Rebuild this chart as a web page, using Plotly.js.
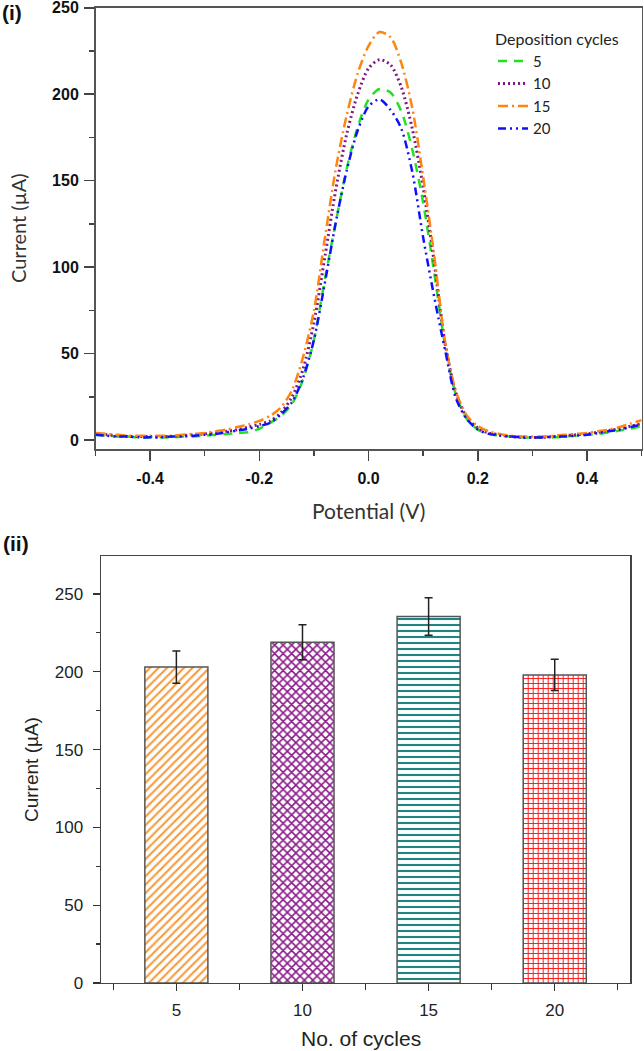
<!DOCTYPE html>
<html>
<head>
<meta charset="utf-8">
<script src="https://cdn.plot.ly/plotly-3.0.1.min.js"></script>
<style>html,body{margin:0;padding:0;background:#fff;}#chart{width:644px;height:1051px;}</style>
</head>
<body>
<div id="chart"></div>
<script>
// ---------- Panel (i): DPV curves ----------
const potential = [-0.50,-0.48,-0.46,-0.44,-0.42,-0.40,-0.38,-0.36,-0.34,-0.32,-0.30,-0.28,-0.26,-0.24,-0.22,-0.20,-0.18,-0.16,-0.14,-0.12,-0.10,-0.08,-0.06,-0.04,-0.02,0.00,0.02,0.04,0.06,0.08,0.10,0.12,0.14,0.16,0.18,0.20,0.22,0.24,0.26,0.28,0.30,0.32,0.34,0.36,0.38,0.40,0.42,0.44,0.46,0.48,0.50];
const current5  = [3,2.5,2,2,1.5,1.5,1.5,1.5,2,2,2.5,3,3.5,4,4.5,6.5,10,14,21,35,58,93,126,157,181,197,203,201,190,168,137,97,55,26,12,6,3.5,2.5,2,1.5,1.5,1.5,1.5,2,2.5,3,3.5,4.5,5.5,6.5,8];
const current10 = [3.5,3,2.5,2,2,2,2,2,2.5,3,3.5,4,5,6,7.5,9,11,16,25,41,68,106,145,177,200,215,220,217,204,180,146,103,56,27,13,7,4,3,2,1.5,1.5,1.5,2,2.5,3,3.5,4.5,5.5,6.5,8,9.5];
const current15 = [4,3.5,3,2.5,2.5,2.5,2.5,2.5,3,3.5,4,5,6,7.5,9,11,14,19,29,48,75,117,157,188,212,228,236,233,218,192,152,107,57,28,14,8,5,3.5,2.5,2,2,2,2.5,3,3.5,4,5,6,7.5,9.5,11.5];
const current20 = [3,2.5,2,2,1.5,1.5,1.5,2,2,2.5,3,3.5,4.5,5.5,6.5,8,10,15,22,36,58,91,126,156,179,193,197,191,180,155,117,83,52,24,12,6,3.5,2.5,2,1.5,1.5,1.5,2,2,2.5,3,4,5,6,7.5,9];
const seriesNames = ['5','10','15','20'];
const potentialTicks = [-0.4,-0.2,0,0.2,0.4];
const potentialTickLabels = ['-0.4','-0.2','0.0','0.2','0.4'];
const currentTicksTop = [0,50,100,150,200,250];

// ---------- Panel (ii): bar chart ----------
const cycles = [5,10,15,20];
const cycleLabels = ['5','10','15','20'];
const peakCurrent = [203,219,235.5,198];
const peakError = [10.3,11.2,12,10];
const currentTicksBottom = [0,50,100,150,200,250];

const W = 644, H = 1051;
const px = v => v / W;
const py = v => 1 - v / H;

const lineStyles = [
  {color:'#22e022', dash:'9px,7px', width:2.5},
  {color:'#7f1a80', dash:'2px,3px', width:3},
  {color:'#ff8410', dash:'10px,4px,2px,4px', width:2.5},
  {color:'#1010ff', dash:'8px,4px,2px,4px,2px,4px', width:2.5}
];
const curves = [current5, current10, current15, current20];

const traces = curves.map((c, i) => ({
  type:'scatter', mode:'lines', x: potential, y: c, name: seriesNames[i],
  xaxis:'x', yaxis:'y',
  line: Object.assign({shape:'spline', smoothing:0.8}, lineStyles[i])
}));

traces.push({
  type:'bar', x: cycles, y: peakCurrent, xaxis:'x2', yaxis:'y2', width: 2.5,
  showlegend:false,
  marker:{
    color:'#ffffff',
    line:{color:'#555555', width:1.5},
    pattern:{
      shape:['/','x','-','+'],
      fgcolor:['#f59a3c','#8a1a8a','#1f8583','#ff1a1a'],
      bgcolor:'#ffffff',
      fgopacity:1,
      size:[6,6,6,5],
      solidity:[0.35,0.45,0.35,0.35],
      fillmode:'overlay'
    }
  },
  error_y:{type:'data', array: peakError, visible:true, color:'#222', thickness:1.5, width:4}
});

const boldTick = {family:'Liberation Sans, Arial, sans-serif', size:16, color:'#111', weight:'bold'};
const plainTick = {family:'Liberation Sans, Arial, sans-serif', size:17, color:'#222'};

const layout = {
  width: W, height: H,
  margin:{l:0, r:0, t:0, b:0},
  paper_bgcolor:'#fff', plot_bgcolor:'#fff',
  showlegend:true,
  legend:{
    x: px(493), xanchor:'left', y: py(24), yanchor:'top',
    bgcolor:'rgba(0,0,0,0)', borderwidth:0,
    font:{family:'Lato, Open Sans, sans-serif', size:15, color:'#222'},
    title:{text:'Deposition cycles', font:{family:'Lato, Open Sans, sans-serif', size:16, color:'#222'}}
  },
  xaxis:{
    domain:[px(95.5), px(641.7)], range:[-0.5,0.5], anchor:'y',
    tickmode:'array', tickvals: potentialTicks, ticktext: potentialTickLabels,
    ticks:'outside', ticklen:10, tickwidth:1.5, tickcolor:'#444',
    minor:{tickmode:'linear', tick0:-0.5, dtick:0.1, ticks:'outside', ticklen:5, tickwidth:1.5, tickcolor:'#444'},
    showline:true, linecolor:'#555', linewidth:1.5, mirror:true,
    showgrid:false, zeroline:false, tickfont: boldTick, ticklabelstandoff:4
  },
  yaxis:{
    domain:[py(449.3), py(7.7)], range:[-5.4,250.05], anchor:'x',
    tickmode:'array', tickvals: currentTicksTop,
    ticks:'outside', ticklen:10, tickwidth:1.5, tickcolor:'#444',
    minor:{tickmode:'linear', tick0:0, dtick:25, ticks:'outside', ticklen:5, tickwidth:1.5, tickcolor:'#444'},
    showline:true, linecolor:'#555', linewidth:1.5, mirror:true,
    showgrid:false, zeroline:false, tickfont: boldTick, ticklabelstandoff:2,
    ticklabeloverflow:'allow'
  },
  xaxis2:{
    domain:[px(100.7), px(630.4)], range:[2,23], anchor:'y2',
    tickmode:'array', tickvals: cycles, ticktext: cycleLabels,
    ticks:'outside', ticklen:7, tickwidth:1.2, tickcolor:'#333',
    minor:{tickmode:'array', tickvals:[2.5,7.5,12.5,17.5,22.5], ticks:'outside', ticklen:6, tickwidth:1.2, tickcolor:'#333'},
    showline:true, linecolor:'#444', linewidth:1.2, mirror:true,
    showgrid:false, zeroline:false, tickfont: plainTick, ticklabelstandoff:4
  },
  yaxis2:{
    domain:[py(983), py(556)], range:[0,274.4], anchor:'x2',
    tickmode:'array', tickvals: currentTicksBottom,
    ticks:'outside', ticklen:7, tickwidth:1.2, tickcolor:'#333',
    minor:{tickmode:'linear', tick0:0, dtick:25, ticks:'outside', ticklen:4, tickwidth:1.2, tickcolor:'#333'},
    showline:true, linecolor:'#444', linewidth:1.2, mirror:true,
    showgrid:false, zeroline:false, tickfont: plainTick, ticklabelstandoff:6
  },
  annotations:[
    {text:'(i)', x:px(0), y:py(13), xref:'paper', yref:'paper', xanchor:'left', yanchor:'middle', showarrow:false,
     font:{family:'Liberation Sans, Arial, sans-serif', size:21, color:'#111', weight:'bold'}},
    {text:'(ii)', x:px(1), y:py(543), xref:'paper', yref:'paper', xanchor:'left', yanchor:'middle', showarrow:false,
     font:{family:'Liberation Sans, Arial, sans-serif', size:21, color:'#111', weight:'bold'}},
    {text:'Current (µA)', x:px(18), y:py(228), xref:'paper', yref:'paper', xanchor:'center', yanchor:'middle', textangle:-90, showarrow:false,
     font:{family:'Lato, Open Sans, sans-serif', size:20, color:'#333'}},
    {text:'Potential (V)', x:px(368.5), y:py(511), xref:'paper', yref:'paper', xanchor:'center', yanchor:'middle', showarrow:false,
     font:{family:'Lato, Open Sans, sans-serif', size:21, color:'#333'}},
    {text:'Current (µA)', x:px(31), y:py(770), xref:'paper', yref:'paper', xanchor:'center', yanchor:'middle', textangle:-90, showarrow:false,
     font:{family:'Liberation Sans, Arial, sans-serif', size:19, color:'#222'}},
    {text:'No. of cycles', x:px(361), y:py(1038), xref:'paper', yref:'paper', xanchor:'center', yanchor:'middle', showarrow:false,
     font:{family:'Liberation Sans, Arial, sans-serif', size:21, color:'#222'}}
  ]
};

Plotly.newPlot('chart', traces, layout, {displayModeBar:false, staticPlot:true});
</script>
</body>
</html>
